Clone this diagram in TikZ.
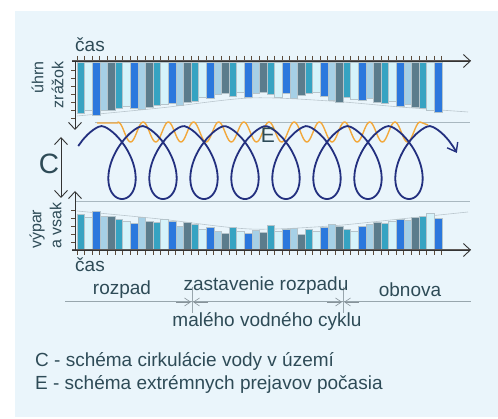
\documentclass[tikz,border=0pt]{standalone}
\usepackage{fontspec}
\setmainfont{Liberation Sans}
\usetikzlibrary{arrows.meta}
\definecolor{panelbg}{HTML}{EAF5FB}
\definecolor{textslate}{HTML}{2E4B57}
\definecolor{axisgray}{HTML}{5F5A58}
\definecolor{tickbrown}{HTML}{5C4B3B}
\definecolor{guidegray}{HTML}{A9B8C0}
\definecolor{loopnavy}{HTML}{23307F}
\definecolor{waveorange}{HTML}{F2A83B}
\definecolor{bar0}{HTML}{36A3C2}
\definecolor{bar1}{HTML}{D6F3FA}
\definecolor{bar2}{HTML}{2B78DD}
\definecolor{bar3}{HTML}{A6D0E6}
\definecolor{bar4}{HTML}{5B7C8C}
\tikzset{
  lbl/.style={font=\fontsize{19}{22}\selectfont, text=textslate, inner sep=0pt},
  sidelbl/.style={font=\fontsize{16}{20}\selectfont, text=textslate, inner sep=0pt,
    rotate=90},
  bigsym/.style={font=\fontsize{28}{30}\selectfont, text=textslate, inner sep=0pt},
  axisline/.style={line width=1pt, color=axisgray},
  axisarrow/.style={-{Straight Barb[length=7pt,width=13pt,line width=0.9pt]},
    line width=0.9pt, color=black!80},
  tick/.style={line width=0.8pt, color=tickbrown},
  bar/.style={draw=bar4!45, line width=0.3pt},
  guide/.style={line width=0.6pt, color=guidegray},
  trend/.style={line width=0.6pt, color=guidegray!80},
  wave/.style={line width=1.4pt, color=waveorange, line join=round},
  loopline/.style={line width=1.8pt, color=loopnavy,
    -{Straight Barb[length=8pt,width=12pt,line width=1.4pt]}},
  tline/.style={line width=1pt, color=guidegray!90!black},
  sepmark/.style={-{Straight Barb[length=6pt,width=8pt]}, line width=0.6pt,
    color=guidegray!80!black},
}
\begin{document}
\begin{tikzpicture}[x=1pt,y=-1pt]
  \useasboundingbox (0,0) rectangle (498,419);
  \fill[panelbg] (15,11) rectangle (498,417);
  % guide lines
  \draw[guide] (95,122) -- (470,122);
  \draw[guide] (75,201) -- (470,201);
  \draw[trend] plot[smooth] coordinates {(77,116) (160,108) (250,98) (330,101) (400,107) (468,112)};
  \draw[trend] plot[smooth] coordinates {(77,211) (160,219) (250,229) (330,226) (400,219) (468,212)};
  % rain, hanging from the top axis
  \foreach \b [count=\i from 0] in {113,110,115,110,110,108,106,108,109,107,105,104,103,105,102,101,
      97,98,94,93,96,92,97,93,92,94,97,93,98,95,93,92,
      96,100,102,97,99,100,98,102,103,101,106,104,107,108,110,112} {
    \pgfmathtruncatemacro\k{mod(\i,5)}
    \filldraw[bar, fill=bar\k] (77+7.6*\i,62) rectangle (84.6+7.6*\i,\b);
  }
  % evaporation, standing on the bottom axis
  \foreach \b [count=\i from 0] in {214,217,211,216,216,219,221,223,217,221,222,219,221,226,222,224,
      229,227,231,233,227,231,233,230,232,225,231,229,228,234,229,231,
      227,224,226,229,231,226,224,222,223,221,219,220,217,216,213,218} {
    \pgfmathtruncatemacro\k{mod(\i,5)}
    \filldraw[bar, fill=bar\k] (77+7.6*\i,250) rectangle (84.6+7.6*\i,\b);
  }
  % axes
  \coordinate (topO) at (72,61);
  \coordinate (topX) at (471,61);
  \coordinate (topV) at (75,61);
  \coordinate (topY) at (75,130);
  \coordinate (botO) at (72,250);
  \coordinate (botX) at (471,250);
  \coordinate (botV) at (75,250);
  \coordinate (botY) at (75,191);
  \foreach \i in {0,...,48} {
    \draw[tick] (77+7.6*\i,56) -- (77+7.6*\i,61);
    \draw[tick] (77+7.6*\i,250) -- (77+7.6*\i,255);
  }
  \foreach \y in {70,78,...,118} \draw[tick] (71,\y) -- (75,\y);
  \foreach \y in {210,218,...,242} \draw[tick] (71,\y) -- (75,\y);
  \draw[axisline] (topO) -- (topX);
  \draw[axisarrow] (topO) -- (topX);
  \draw[axisarrow] (topV) -- (topY);
  \draw[axisline] (botO) -- (botX);
  \draw[axisarrow] (botO) -- (botX);
  \draw[axisarrow] (botV) -- (botY);
  % extreme weather
  \draw[wave] (97,123) -- (118,123)
    -- plot[domain=118:420, samples=260] (\x,{132-10*cos(14.3*(\x-118))})
    -- (428,125);
  % water circulation loops
  \draw[loopline] plot[domain=-0.87:51.35, samples=540, variable=\t]
    ({101.5+6.525*\t+23*sin(\t r)},{126+73*pow(max((1-cos(\t r))/2,0.0001),0.75)});
  % C span
  \coordinate (cTop) at (61,137);
  \coordinate (cBot) at (61,198);
  \draw[axisarrow, {Straight Barb[length=7pt,width=13pt,line width=0.9pt]}-{Straight Barb[length=7pt,width=13pt,line width=0.9pt]}] (cTop) -- (cBot);
  % labels
  \node[lbl, anchor=base] (casTop) at (90,52) {čas};
  \node[lbl, anchor=base] (casBot) at (90,272) {čas};
  \node[sidelbl, anchor=east, align=right] (rainLbl) at (47.5,61) {úhrn\\zrážok};
  \node[sidelbl, anchor=west, align=left] (evapLbl) at (45.5,249) {výpar\\a vsak};
  \node[bigsym] (cLbl) at (49,164) {C};
  \node[lbl, font=\fontsize{21}{24}\selectfont] (eLbl) at (268,135) {E};
  % timeline
  \coordinate (tlL) at (65,302);
  \coordinate (tlR) at (471,302);
  \draw[tline] (tlL) -- (tlR);
  \foreach \n/\x in {sepA/192,sepB/343} {
    \coordinate (\n) at (\x,302);
    \draw[tline] (\x,287) -- (\x,313);
    \draw[sepmark] ([xshift=-16pt]\n) -- ([xshift=-1pt]\n);
    \draw[sepmark] ([xshift=16pt]\n) -- ([xshift=1pt]\n);
  }
  \node[lbl, anchor=base] (decay) at (122,295) {rozpad};
  \node[lbl, anchor=base] (halt) at (266,291) {zastavenie rozpadu};
  \node[lbl, anchor=base] (haltB) at (267,327) {malého vodného cyklu};
  \node[lbl, anchor=base] (renew) at (410,297) {obnova};
  % legend
  \node[lbl, anchor=base west] (legC) at (35,367) {C - schéma cirkulácie vody v území};
  \node[lbl, anchor=base west] (legE) at (35,390) {E - schéma extrémnych prejavov počasia};
\end{tikzpicture}
\end{document}
